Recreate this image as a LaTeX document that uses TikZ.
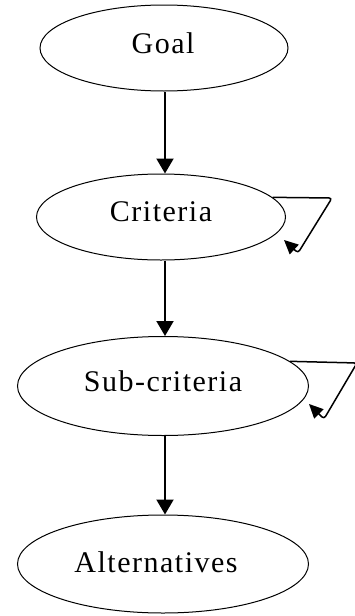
\documentclass[tikz,border=0pt]{standalone}
\usepackage{fontspec}
\setmainfont[LetterSpace=5]{Liberation Serif}
\usetikzlibrary{shapes.geometric,arrows.meta}
\begin{document}
\begin{tikzpicture}[x=1pt,y=-1pt,
  oval/.style={draw=black, line width=1pt, ellipse, inner sep=0pt},
  lbl/.style={inner sep=0pt, font=\fontsize{30}{36}\selectfont},
  arr/.style={line width=2pt, -{Triangle[length=15pt,width=17pt]}},
  looparr/.style={line width=1.5pt, -{Triangle[length=14pt,width=13pt]}}]
\useasboundingbox (0,0) rectangle (355,616);
\node[oval, minimum width=248pt, minimum height=86pt] (goal) at (164,48) {};
\node[oval, minimum width=249pt, minimum height=86pt] (crit) at (161,217) {};
\node[oval, minimum width=291pt, minimum height=99pt] (sub) at (163,386) {};
\node[oval, minimum width=291pt, minimum height=98pt] (alt) at (163,564) {};
\node[lbl] (tgoal) at (163,43) {Goal};
\node[lbl] (tcrit) at (161,212) {Criteria};
\node[lbl] (tsub) at (163,381) {Sub-criteria};
\node[lbl] (talt) at (156,562) {Alternatives};
\draw[arr] (goal.south -| 165,0) -- (crit.north -| 165,0);
\draw[arr] (crit.south -| 165,0) -- (sub.north -| 165,0);
\draw[arr] (sub.south -| 165,0) -- (alt.north -| 165,0);
\coordinate (c1) at (332,198);
\coordinate (c2) at (298,253);
\coordinate (ctip) at (284,240);
\draw[looparr, rounded corners=3pt] (crit.10) -- (c1) -- (c2) -- (ctip);
\coordinate (s1) at (357,363);
\coordinate (s2) at (324,419);
\coordinate (stip) at (309,404);
\draw[looparr, rounded corners=3pt] (sub.11) -- (s1) -- (s2) -- (stip);
\end{tikzpicture}
\end{document}
